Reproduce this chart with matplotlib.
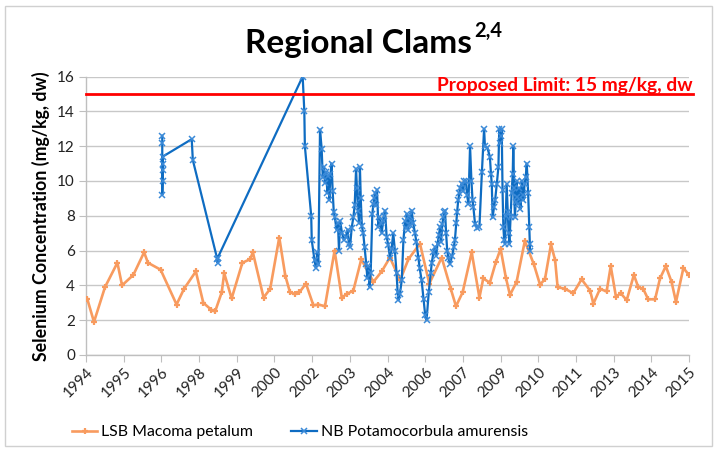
import numpy as np
import pandas as pd
import matplotlib
matplotlib.use("Agg")
import matplotlib.pyplot as plt
import matplotlib.dates as mdates
from matplotlib.patches import Rectangle

# ---------------- data ----------------
lsb_years = [1994.05, 1994.29, 1994.69, 1995.14, 1995.31, 1995.72, 1996.11, 1996.25, 1996.71,
             1997.29, 1997.56, 1997.99, 1998.26, 1998.55, 1998.69, 1998.93, 1999.02, 1999.29,
             1999.68, 1999.96, 2000.06, 2000.45, 2000.69, 2001.02, 2001.24, 2001.41, 2001.59,
             2001.75, 2001.99, 2002.26, 2002.44, 2002.68, 2003.03, 2003.29, 2003.47, 2003.71,
             2004.00, 2004.44, 2004.74, 2005.04, 2005.41, 2005.71, 2006.13, 2006.47, 2006.92,
             2007.25, 2007.44, 2007.68, 2008.01, 2008.29, 2008.43, 2008.67, 2008.89, 2009.06,
             2009.25, 2009.40, 2009.64, 2009.94, 2010.27, 2010.49, 2010.67, 2010.89, 2011.04,
             2011.13, 2011.40, 2011.70, 2012.00, 2012.31, 2012.43, 2012.67, 2012.91, 2013.06,
             2013.25, 2013.42, 2013.64, 2013.90, 2014.06, 2014.24, 2014.42, 2014.67, 2014.85,
             2015.06, 2015.27, 2015.43, 2015.70, 2015.90]
lsb_vals = [3.2, 1.9, 3.9, 5.3, 4.0, 4.6, 5.9, 5.3, 4.9,
            2.9, 3.8, 4.8, 3.0, 2.6, 2.5, 3.6, 4.7, 3.25,
            5.3, 5.5, 5.9, 3.3, 3.8, 6.75, 4.55, 3.6, 3.5,
            3.6, 4.1, 2.85, 2.9, 2.8, 6.0, 3.3, 3.5, 3.7,
            5.5, 4.2, 4.8, 5.6, 4.3, 5.5, 6.4, 4.1, 5.6,
            3.8, 2.8, 3.6, 5.9, 3.3, 4.4, 4.15, 5.35, 6.1,
            4.45, 3.45, 4.2, 6.55, 5.2, 4.05, 4.35, 6.35, 5.45,
            3.9, 3.8, 3.55, 4.35, 3.7, 2.95, 3.8, 3.65, 5.1,
            3.35, 3.55, 3.15, 4.6, 3.9, 3.8, 3.2, 3.2, 4.4,
            5.1, 4.2, 3.05, 5.0, 4.6]

nb_years = [1996.77, 1996.77, 1996.77, 1996.78, 1996.78, 1996.78, 1996.79,
            1997.84, 1997.88, 1998.77, 1998.78, 1998.79,
            2001.87, 2001.93, 2001.95, 2002.18, 2002.20, 2002.30, 2002.35, 2002.40, 2002.44,
            2002.50, 2002.56, 2002.60, 2002.64, 2002.68, 2002.72, 2002.77, 2002.80, 2002.84,
            2002.88, 2002.92, 2002.96, 2003.00, 2003.04, 2003.10, 2003.15, 2003.19, 2003.23,
            2003.30, 2003.37, 2003.44, 2003.50, 2003.55, 2003.59, 2003.65, 2003.71, 2003.76,
            2003.81, 2003.84, 2003.88, 2003.92, 2003.95, 2003.98, 2004.02, 2004.07, 2004.12,
            2004.18, 2004.22, 2004.26, 2004.30, 2004.34, 2004.40, 2004.44, 2004.47, 2004.50,
            2004.53, 2004.57, 2004.62, 2004.66, 2004.70, 2004.74, 2004.79, 2004.83, 2004.86,
            2004.92, 2004.98, 2005.04, 2005.10, 2005.16, 2005.22, 2005.28, 2005.32, 2005.35,
            2005.40, 2005.47, 2005.53, 2005.59, 2005.62, 2005.65, 2005.70, 2005.74, 2005.77,
            2005.80, 2005.83, 2005.88, 2005.95, 2006.00, 2006.07, 2006.12, 2006.19, 2006.26,
            2006.32, 2006.37, 2006.45, 2006.52, 2006.56, 2006.62, 2006.68, 2006.72, 2006.77,
            2006.82, 2006.86, 2006.90, 2006.94, 2006.98, 2007.02, 2007.04, 2007.08, 2007.12,
            2007.16, 2007.22, 2007.30, 2007.36, 2007.40, 2007.45, 2007.48, 2007.52, 2007.56,
            2007.60, 2007.65, 2007.70, 2007.74, 2007.80, 2007.84, 2007.89, 2007.95, 2008.00,
            2008.04, 2008.07, 2008.13, 2008.20, 2008.29, 2008.38, 2008.46, 2008.49, 2008.58,
            2008.67, 2008.71, 2008.74, 2008.77, 2008.82, 2008.86, 2008.92, 2008.98, 2009.01,
            2009.04, 2009.07, 2009.10, 2009.13, 2009.16, 2009.19, 2009.22, 2009.25, 2009.28,
            2009.32, 2009.35, 2009.38, 2009.42, 2009.46, 2009.50, 2009.52, 2009.55, 2009.58,
            2009.61, 2009.64, 2009.67, 2009.70, 2009.74, 2009.78, 2009.83, 2009.86, 2009.89,
            2009.93, 2009.97, 2010.01, 2010.06, 2010.10, 2010.12, 2010.13]
nb_vals = [12.6, 12.2, 9.2, 10.0, 10.6, 11.0, 11.4,
           12.4, 11.2, 5.5, 5.3, 5.6,
           16.0, 14.0, 12.0, 8.0, 6.6, 5.45, 5.0, 5.9, 5.2,
           12.95, 11.85, 10.2, 10.8, 9.9, 10.5, 9.3, 10.3, 8.9,
           10.4, 11.0, 9.4, 8.2, 7.9, 7.2, 7.6, 6.0, 7.7,
           7.0, 6.6, 6.8, 7.2, 6.4, 6.2, 7.3, 7.9, 8.6,
           10.7, 9.6, 8.3, 7.6, 10.8, 9.0, 7.4, 7.0, 6.2,
           5.2, 4.4, 5.1, 3.9, 4.7, 8.1, 8.7, 9.0, 9.3,
           8.6, 9.5, 7.35, 7.9, 7.6, 7.0, 7.7, 8.0, 8.3,
           6.8, 6.3, 5.6, 6.1, 7.0, 6.0, 4.7, 3.6, 3.15,
           3.5, 4.3, 6.6, 7.7, 7.3, 8.1, 7.2, 8.0, 7.45,
           7.7, 8.3, 7.6, 7.0, 6.5, 5.6, 5.0, 4.3, 3.2,
           2.3, 2.0, 3.6, 4.7, 5.3, 5.9, 6.2, 5.7, 6.4,
           6.9, 7.35, 6.5, 7.5, 7.9, 8.2, 8.3, 7.0, 6.0,
           5.6, 5.25, 5.7, 6.2, 6.6, 7.6, 8.2, 8.9, 9.3,
           9.6, 9.85, 9.4, 10.0, 10.0, 9.2, 8.7, 12.0, 10.0,
           8.9, 8.5, 7.55, 7.3, 7.35, 10.5, 13.0, 12.0, 11.9,
           11.4, 10.4, 9.8, 7.9, 8.5, 8.9, 9.8, 10.8, 13.0,
           12.2, 12.6, 13.0, 9.5, 7.35, 6.6, 6.4, 8.0, 9.8,
           8.2, 7.0, 6.4, 7.9, 9.3, 10.4, 12.0, 9.6, 7.9,
           8.8, 10.0, 9.1, 8.7, 9.6, 8.4, 10.0, 9.2, 8.9,
           9.8, 10.2, 11.0, 9.3, 7.35, 6.4, 6.0]

limit_value = 15
y_ticks = [0, 2, 4, 6, 8, 10, 12, 14, 16]
tick_step_days = 500
n_ticks = 17

series_names = ["LSB Macoma petalum", "NB Potamocorbula amurensis"]
title_main = "Regional Clams"
title_sup = "2,4"
ylabel_text = "Selenium Concentration (mg/kg, dw)"
limit_text = "Proposed Limit: 15 mg/kg, dw"

# ---------------- helpers ----------------
base = pd.Timestamp("1994-01-01")


def to_dates(years):
    return [base + pd.Timedelta(days=(y - 1994) * 365.25) for y in years]


plt.rcParams["font.family"] = ["Lato", "DejaVu Sans"]

W, H = 717, 451
fig = plt.figure(figsize=(W / 100, H / 100), dpi=100)
fig.patch.set_facecolor("white")

ax = fig.add_axes([86 / W, 1 - 355 / H, (689 - 86) / W, (355 - 76.5) / H])

orange = "#F89B5F"
blue = "#0E6CC2"

ax.plot(to_dates(lsb_years), lsb_vals, color=orange, lw=1.9, marker="+",
        ms=4.5, mew=1.6, mec=orange, label=series_names[0], zorder=3)
ax.plot(to_dates(nb_years), nb_vals, color=blue, lw=1.6, marker="x",
        ms=4.5, mew=1.1, mec="#3B8AD8", label=series_names[1], zorder=4)

# limit line
ax.axhline(limit_value, xmin=0, xmax=1.007, color="#FF0000", lw=2.0,
           clip_on=False, zorder=5)

ax.set_ylim(0, 16)
ax.set_yticks(y_ticks)
ticks = [base + pd.Timedelta(days=tick_step_days * i) for i in range(n_ticks)]
ax.set_xlim(ticks[0], ticks[-1])
ax.set_xticks(ticks)
ax.xaxis.set_major_formatter(mdates.DateFormatter("%Y"))

for lab in ax.get_xticklabels():
    lab.set_rotation(45)
    lab.set_ha("right")
    lab.set_rotation_mode("anchor")

ax.tick_params(axis="x", length=5, color="#BFBFBF", labelsize=11,
               labelcolor="#222222", pad=2)
ax.tick_params(axis="y", length=5, color="#BFBFBF", labelsize=11,
               labelcolor="#222222", pad=3)

ax.grid(axis="y", color="#C8C8C8", lw=1.0)
ax.set_axisbelow(True)
for side in ["top", "right"]:
    ax.spines[side].set_visible(False)
for side in ["left", "bottom"]:
    ax.spines[side].set_color("#BFBFBF")
    ax.spines[side].set_linewidth(1.0)

ax.set_ylabel(ylabel_text, fontsize=12.8, fontweight="bold", labelpad=5)

# title with superscript
t_main = fig.text(245 / W, 1 - 43 / H, title_main, fontsize=24, fontweight="bold",
                  ha="left", va="center")
fig.canvas.draw()
bb = t_main.get_window_extent()
fig.text(bb.x1 / W + 2 / W, 1 - 31 / H, title_sup, fontsize=14.5, fontweight="bold",
         ha="left", va="center")

fig.text(693 / W, 1 - 85 / H, limit_text, fontsize=13.8, fontweight="bold",
         color="#FF0000", ha="right", va="center")

leg = fig.legend(loc="center", bbox_to_anchor=(300 / W, 1 - 432 / H), ncol=2,
                 frameon=False, fontsize=11.4, handlelength=1.6,
                 columnspacing=2.4, handletextpad=0.25)

fig.patches.append(Rectangle((5 / W, 5 / H), 707 / W, 440 / H,
                             transform=fig.transFigure, fill=False,
                             edgecolor="#D0D0D0", lw=1.0))

fig.savefig("out.png", dpi=100)
